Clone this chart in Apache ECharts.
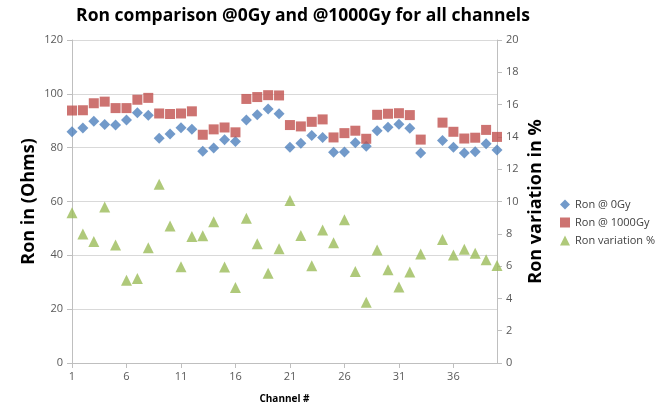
<!DOCTYPE html>
<html>
<head>
<meta charset="utf-8">
<script src="https://cdn.jsdelivr.net/npm/echarts@6/dist/echarts.min.js"></script>
<style>html,body{margin:0;padding:0;background:#fff}#c{width:658px;height:409px}</style>
</head>
<body>
<div id="c"></div>
<script>
var channels = [];
for (var i = 1; i <= 40; i++) channels.push(String(i));

var ron0Gy = [85.9, 87.3, 89.8, 88.6, 88.4, 90.3, 93.0, 92.0, 83.5, 85.1,
              87.4, 86.8, 78.7, 79.9, 82.9, 82.3, 90.3, 92.2, 94.4, 92.6,
              80.2, 81.6, 84.5, 83.8, 78.3, 78.4, 81.8, 80.5, 86.3, 87.6,
              88.7, 87.2, 78.0, null, 82.7, 80.2, 78.0, 78.5, 81.5, 79.1];

var ron1000Gy = [93.8, 93.9, 96.5, 97.1, 94.7, 94.7, 97.8, 98.5, 92.7, 92.5,
                 92.7, 93.5, 84.8, 86.8, 87.5, 85.7, 98.1, 98.8, 99.5, 99.4,
                 88.4, 87.9, 89.6, 90.5, 83.8, 85.4, 86.3, 83.3, 92.2, 92.6,
                 92.8, 92.1, 83.0, null, 89.3, 85.9, 83.4, 83.7, 86.6, 84.0];

var ronVariation = [9.31, 7.98, 7.52, 9.66, 7.31, 5.13, 5.23, 7.13, 11.07, 8.48,
                    5.96, 7.84, 7.88, 8.75, 5.94, 4.67, 8.97, 7.39, 5.56, 7.07,
                    10.06, 7.90, 6.02, 8.24, 7.45, 8.87, 5.66, 3.76, 6.99, 5.78,
                    4.71, 5.64, 6.75, null, 7.64, 6.69, 7.05, 6.79, 6.40, 6.04];

var leftTicks = {min: 0, max: 120, interval: 20};
var rightTicks = {min: 0, max: 20, interval: 2};

var chart = echarts.init(document.getElementById('c'), null, {renderer: 'canvas'});
var labelColor = '#595959';
var axisLineColor = '#BFBFBF';
var font = 'Open Sans';

chart.setOption({
  animation: false,
  backgroundColor: '#fff',
  title: {
    text: 'Ron comparison @0Gy and @1000Gy for all channels',
    left: 298, top: 2, textAlign: 'center',
    textStyle: {fontFamily: font, fontSize: 17.5, fontWeight: 'bold', color: '#000'}
  },
  legend: {
    orient: 'vertical',
    left: 555, top: 194,
    itemWidth: 10, itemHeight: 10, itemGap: 7,
    textStyle: {fontFamily: font, fontSize: 11, color: '#404040'},
    data: [
      {name: 'Ron @ 0Gy', icon: 'diamond'},
      {name: 'Ron @ 1000Gy', icon: 'rect'},
      {name: 'Ron variation %', icon: 'triangle'}
    ]
  },
  grid: {left: 72, right: 161, top: 40, bottom: 41},
  xAxis: {
    type: 'category',
    data: channels,
    boundaryGap: false,
    name: 'Channel #',
    nameLocation: 'middle',
    nameGap: 31,
    nameMoveOverlap: false,
    nameTextStyle: {fontFamily: font, fontSize: 10, fontWeight: 'bold', color: '#000'},
    axisLine: {lineStyle: {color: axisLineColor}},
    axisTick: {show: true, interval: 4, length: 5, lineStyle: {color: axisLineColor}},
    axisLabel: {interval: 4, fontFamily: font, fontSize: 11, color: labelColor, margin: 8},
    splitLine: {show: false}
  },
  yAxis: [
    {
      type: 'value',
      min: leftTicks.min, max: leftTicks.max, interval: leftTicks.interval,
      name: 'Ron in (Ohms)',
      nameLocation: 'middle',
      nameGap: 34,
      nameMoveOverlap: false,
      nameTextStyle: {fontFamily: font, fontSize: 18, fontWeight: 'bold', color: '#000'},
      axisLine: {show: true, lineStyle: {color: axisLineColor}},
      axisTick: {show: true, length: 5, lineStyle: {color: axisLineColor}},
      axisLabel: {fontFamily: font, fontSize: 11, color: labelColor, margin: 9},
      splitLine: {show: true, lineStyle: {color: '#D9D9D9', width: 1}}
    },
    {
      type: 'value',
      min: rightTicks.min, max: rightTicks.max, interval: rightTicks.interval,
      position: 'right',
      name: 'Ron variation in %',
      nameLocation: 'middle',
      nameGap: 30,
      nameRotate: 90,
      nameMoveOverlap: false,
      nameTextStyle: {fontFamily: font, fontSize: 18, fontWeight: 'bold', color: '#000'},
      axisLine: {show: true, lineStyle: {color: axisLineColor}},
      axisTick: {show: true, length: 5, lineStyle: {color: axisLineColor}},
      axisLabel: {fontFamily: font, fontSize: 11, color: labelColor, margin: 9},
      splitLine: {show: false}
    }
  ],
  series: [
    {
      name: 'Ron @ 0Gy', type: 'scatter', yAxisIndex: 0,
      symbol: 'diamond', symbolSize: 11,
      itemStyle: {color: '#4F81BD'},
      data: ron0Gy
    },
    {
      name: 'Ron @ 1000Gy', type: 'scatter', yAxisIndex: 0,
      symbol: 'rect', symbolSize: 10,
      itemStyle: {color: '#C0504D'},
      data: ron1000Gy
    },
    {
      name: 'Ron variation %', type: 'scatter', yAxisIndex: 1,
      symbol: 'triangle', symbolSize: 11,
      itemStyle: {color: '#9BBB59'},
      data: ronVariation
    }
  ]
});
</script>
</body>
</html>
